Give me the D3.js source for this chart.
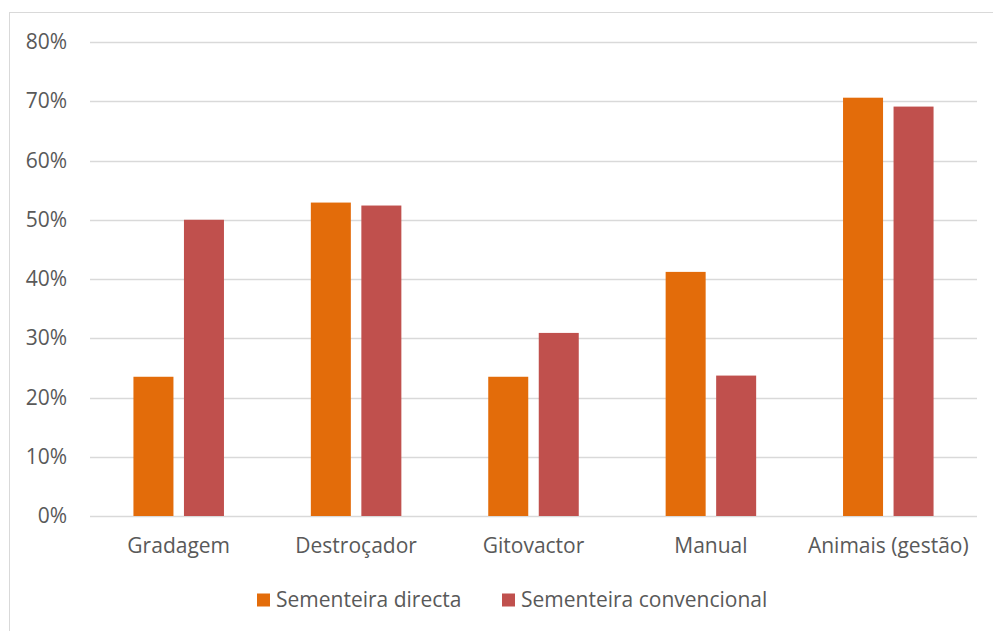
<!DOCTYPE html>
<html>
<head>
<meta charset="utf-8">
<script src="https://cdn.jsdelivr.net/npm/d3@7"></script>
<style>
  html, body { margin: 0; padding: 0; background: #fff; }
  svg { display: block; }
  svg text { font-family: "Open Sans", "Noto Sans", sans-serif; }
</style>
</head>
<body>
<svg id="chart" width="993" height="631"></svg>
<script>
// Categories and series values (share of respondents)
const categories = ["Gradagem", "Destroçador", "Gitovactor", "Manual", "Animais (gestão)"];
const seriesNames = ["Sementeira directa", "Sementeira convencional"];
const directa = [0.235, 0.529, 0.235, 0.412, 0.706];
const convencional = [0.500, 0.524, 0.309, 0.237, 0.691];
const yTicks = [0, 0.1, 0.2, 0.3, 0.4, 0.5, 0.6, 0.7, 0.8];
const colors = ["#E36C0A", "#C0504D"];

const seriesValues = [directa, convencional];
const rows = categories.map((c, i) => ({
  category: c,
  values: seriesNames.map((s, k) => ({ series: s, value: seriesValues[k][i] }))
}));

const FONT = "\"Open Sans\", \"Noto Sans\", sans-serif";
const FS = "21px";
const TEXT = "#595959";

const svg = d3.select("#chart");
const W = 993, H = 631;
const margin = { left: 90, right: 16, top: 42, bottom: 115 };
const plotW = W - margin.left - margin.right;
const plotH = H - margin.top - margin.bottom;

// Chart area border
svg.append("rect")
  .attr("x", 9.5).attr("y", 12.5)
  .attr("width", W - 9).attr("height", H)
  .attr("fill", "#fff").attr("stroke", "#D9D9D9").attr("stroke-width", 1);

const g = svg.append("g").attr("transform", `translate(${margin.left},${margin.top})`);

const x0 = d3.scaleBand().domain(categories).range([0, plotW]).padding(0);
const x1 = d3.scaleBand().domain(seriesNames).range([0, x0.bandwidth()])
  .paddingInner(0.208).paddingOuter(0.86);
const y = d3.scaleLinear().domain([0, 0.8]).range([plotH, 0]);

// Horizontal gridlines
g.append("g").selectAll("line").data(yTicks).join("line")
  .attr("x1", 0).attr("x2", plotW)
  .attr("y1", d => Math.round(y(d)) + 0.5).attr("y2", d => Math.round(y(d)) + 0.5)
  .attr("stroke", "#D9D9D9").attr("stroke-width", 1.3);

// Y axis labels
const yAxis = d3.axisLeft(y).tickValues(yTicks).tickFormat(d3.format(".0%")).tickSize(0).tickPadding(23);
const ya = g.append("g").call(yAxis).attr("font-family", FONT).attr("font-size", FS);
ya.select(".domain").remove();
ya.selectAll("text").attr("fill", TEXT);

// Bars
const groups = g.append("g").selectAll("g").data(rows).join("g")
  .attr("transform", d => `translate(${x0(d.category)},0)`);
groups.selectAll("rect").data(d => d.values).join("rect")
  .attr("x", d => x1(d.series))
  .attr("width", x1.bandwidth())
  .attr("y", d => y(d.value))
  .attr("height", d => plotH - y(d.value))
  .attr("fill", (d, i) => colors[i]);

// X axis labels
const xAxis = d3.axisBottom(x0).tickSize(0).tickPadding(22);
const xa = g.append("g").attr("transform", `translate(0,${plotH})`).call(xAxis)
  .attr("font-family", FONT).attr("font-size", FS);
xa.select(".domain").remove();
xa.selectAll("text").attr("fill", TEXT);

// Legend
const legend = svg.append("g").attr("transform", "translate(0,600)");
const legendX = [257, 502];
seriesNames.forEach((s, i) => {
  legend.append("rect")
    .attr("x", legendX[i]).attr("y", -6.5)
    .attr("width", 13).attr("height", 13)
    .attr("fill", colors[i]);
  legend.append("text")
    .attr("x", legendX[i] + 19).attr("y", 0)
    .attr("dy", "0.35em")
    .attr("fill", TEXT).style("font-size", FS)
    .text(s);
});
</script>
</body>
</html>
